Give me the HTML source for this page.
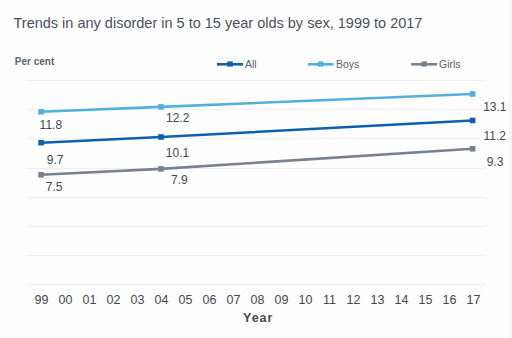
<!DOCTYPE html>
<html><head><meta charset="utf-8"><style>
html,body{margin:0;padding:0;}
body{width:512px;height:338px;background:#fefefe;position:relative;overflow:hidden;font-family:"Liberation Sans",sans-serif;color:#43474f;}
.t{position:absolute;white-space:nowrap;line-height:1;}
svg{position:absolute;left:0;top:0;}
</style></head><body>
<div style="position:absolute;left:509px;top:0;width:3px;height:338px;background:#f7f7f7"></div>
<svg width="512" height="338" viewBox="0 0 512 338"><line x1="27" y1="80.5" x2="485.5" y2="80.5" stroke="#efefef" stroke-width="1"/><line x1="27" y1="109.5" x2="485.5" y2="109.5" stroke="#efefef" stroke-width="1"/><line x1="27" y1="138.5" x2="485.5" y2="138.5" stroke="#efefef" stroke-width="1"/><line x1="27" y1="168.5" x2="485.5" y2="168.5" stroke="#efefef" stroke-width="1"/><line x1="27" y1="197.5" x2="485.5" y2="197.5" stroke="#efefef" stroke-width="1"/><line x1="27" y1="226.5" x2="485.5" y2="226.5" stroke="#efefef" stroke-width="1"/><line x1="27" y1="255.5" x2="485.5" y2="255.5" stroke="#efefef" stroke-width="1"/><line x1="27" y1="284.5" x2="485.5" y2="284.5" stroke="#efefef" stroke-width="1"/><polyline points="41.05,111.80 161.00,106.90 472.60,93.95" fill="none" stroke="#52b0dc" stroke-width="2.6"/><rect x="38.25" y="109.00" width="5.6" height="5.6" fill="#52b0dc"/><rect x="158.20" y="104.10" width="5.6" height="5.6" fill="#52b0dc"/><rect x="469.80" y="91.15" width="5.6" height="5.6" fill="#52b0dc"/><polyline points="41.05,142.70 161.00,137.00 472.60,120.45" fill="none" stroke="#0d5fb0" stroke-width="2.6"/><rect x="38.25" y="139.90" width="5.6" height="5.6" fill="#0d5fb0"/><rect x="158.20" y="134.20" width="5.6" height="5.6" fill="#0d5fb0"/><rect x="469.80" y="117.65" width="5.6" height="5.6" fill="#0d5fb0"/><polyline points="41.05,174.80 161.00,168.90 472.60,148.80" fill="none" stroke="#78838f" stroke-width="2.6"/><rect x="38.25" y="172.00" width="5.6" height="5.6" fill="#78838f"/><rect x="158.20" y="166.10" width="5.6" height="5.6" fill="#78838f"/><rect x="469.80" y="146.00" width="5.6" height="5.6" fill="#78838f"/><line x1="217" y1="64.3" x2="243" y2="64.3" stroke="#0d5fb0" stroke-width="2.6"/><rect x="227.20" y="61.4" width="5.6" height="5.2" fill="#0d5fb0"/><line x1="307.8" y1="64.3" x2="333.6" y2="64.3" stroke="#52b0dc" stroke-width="2.6"/><rect x="317.90" y="61.4" width="5.6" height="5.2" fill="#52b0dc"/><line x1="411.2" y1="64.3" x2="437.2" y2="64.3" stroke="#78838f" stroke-width="2.6"/><rect x="421.40" y="61.4" width="5.6" height="5.2" fill="#78838f"/></svg>
<div class="t" style="left:13.5px;top:15.5px;font-size:14.5px;color:#49505b;">Trends in any disorder in 5 to 15 year olds by sex, 1999 to 2017</div>
<div class="t" style="left:14.8px;top:56.5px;font-size:10px;font-weight:bold;color:#5a6270;">Per cent</div>
<div class="t" style="left:245px;top:58.5px;font-size:10.5px;color:#595e66;">All</div>
<div class="t" style="left:336px;top:58.5px;font-size:10.5px;color:#595e66;">Boys</div>
<div class="t" style="left:439px;top:58.5px;font-size:10.5px;color:#595e66;">Girls</div>
<div class="t" style="left:39.6px;top:119.3px;font-size:12px;">11.8</div>
<div class="t" style="left:46.8px;top:154px;font-size:12px;">9.7</div>
<div class="t" style="left:45.8px;top:181.3px;font-size:12px;">7.5</div>
<div class="t" style="left:166px;top:111.8px;font-size:12px;">12.2</div>
<div class="t" style="left:165.8px;top:147.2px;font-size:12px;">10.1</div>
<div class="t" style="left:171px;top:174px;font-size:12px;">7.9</div>
<div class="t" style="left:483.2px;top:101px;font-size:12px;">13.1</div>
<div class="t" style="left:483.5px;top:130px;font-size:12px;">11.2</div>
<div class="t" style="left:486.7px;top:156px;font-size:12px;">9.3</div>
<div class="t" style="left:21.50px;width:40px;text-align:center;top:293.8px;font-size:12.5px;">99</div>
<div class="t" style="left:45.50px;width:40px;text-align:center;top:293.8px;font-size:12.5px;">00</div>
<div class="t" style="left:69.50px;width:40px;text-align:center;top:293.8px;font-size:12.5px;">01</div>
<div class="t" style="left:93.50px;width:40px;text-align:center;top:293.8px;font-size:12.5px;">02</div>
<div class="t" style="left:117.50px;width:40px;text-align:center;top:293.8px;font-size:12.5px;">03</div>
<div class="t" style="left:141.50px;width:40px;text-align:center;top:293.8px;font-size:12.5px;">04</div>
<div class="t" style="left:165.50px;width:40px;text-align:center;top:293.8px;font-size:12.5px;">05</div>
<div class="t" style="left:189.50px;width:40px;text-align:center;top:293.8px;font-size:12.5px;">06</div>
<div class="t" style="left:213.50px;width:40px;text-align:center;top:293.8px;font-size:12.5px;">07</div>
<div class="t" style="left:237.50px;width:40px;text-align:center;top:293.8px;font-size:12.5px;">08</div>
<div class="t" style="left:261.50px;width:40px;text-align:center;top:293.8px;font-size:12.5px;">09</div>
<div class="t" style="left:285.50px;width:40px;text-align:center;top:293.8px;font-size:12.5px;">10</div>
<div class="t" style="left:309.50px;width:40px;text-align:center;top:293.8px;font-size:12.5px;">11</div>
<div class="t" style="left:333.50px;width:40px;text-align:center;top:293.8px;font-size:12.5px;">12</div>
<div class="t" style="left:357.50px;width:40px;text-align:center;top:293.8px;font-size:12.5px;">13</div>
<div class="t" style="left:381.50px;width:40px;text-align:center;top:293.8px;font-size:12.5px;">14</div>
<div class="t" style="left:405.50px;width:40px;text-align:center;top:293.8px;font-size:12.5px;">15</div>
<div class="t" style="left:429.50px;width:40px;text-align:center;top:293.8px;font-size:12.5px;">16</div>
<div class="t" style="left:453.50px;width:40px;text-align:center;top:293.8px;font-size:12.5px;">17</div>
<div class="t" style="left:243px;top:312.3px;font-size:12.5px;font-weight:bold;letter-spacing:1px;color:#474b53;">Year</div>
</body></html>
